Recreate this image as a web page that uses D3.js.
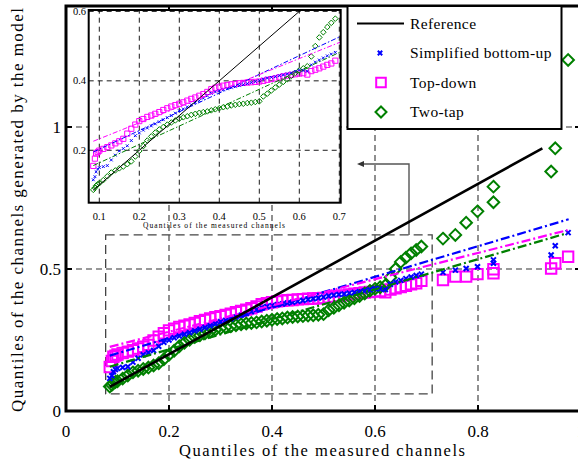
<!DOCTYPE html>
<html>
<head>
<meta charset="utf-8">
<script src="https://cdn.jsdelivr.net/npm/d3@7"></script>
<style>
  body { margin: 0; background: #fff; }
  svg { display: block; }
  text { font-family: "Liberation Serif", "DejaVu Serif", serif; }
</style>
</head>
<body>
<svg width="578" height="460"></svg>
<script>
// quantiles of the measured channels (shared x for all three models)
const xMeasured = [0.085, 0.089, 0.092, 0.096,
  0.10, 0.11, 0.12, 0.13, 0.14, 0.15, 0.16, 0.17, 0.18, 0.19,
  0.20, 0.21, 0.22, 0.23, 0.24, 0.25, 0.26, 0.27, 0.28, 0.29,
  0.30, 0.31, 0.32, 0.33, 0.34, 0.35, 0.36, 0.37, 0.38, 0.39,
  0.40, 0.41, 0.42, 0.43, 0.44, 0.45, 0.46, 0.47, 0.48, 0.49,
  0.50, 0.51, 0.52, 0.53, 0.54, 0.55, 0.56, 0.57, 0.58, 0.59,
  0.60, 0.61, 0.62, 0.63, 0.64, 0.65, 0.66, 0.67, 0.68, 0.69,
  0.732, 0.756, 0.777, 0.799, 0.83, 0.83, 0.942, 0.95, 0.975];

const yBottomUp = [0.115, 0.124, 0.138, 0.146,
  0.150, 0.153, 0.156, 0.172, 0.186, 0.198, 0.205, 0.213, 0.228, 0.242,
  0.250, 0.258, 0.264, 0.270, 0.276, 0.282, 0.288, 0.294, 0.300, 0.307,
  0.314, 0.319, 0.325, 0.331, 0.337, 0.343, 0.350, 0.357, 0.364, 0.368,
  0.371, 0.374, 0.377, 0.380, 0.383, 0.386, 0.389, 0.392, 0.395, 0.398,
  0.401, 0.405, 0.408, 0.410, 0.412, 0.415, 0.417, 0.420, 0.423, 0.427,
  0.431, 0.430, 0.428, 0.446, 0.454, 0.460, 0.466, 0.472, 0.477, 0.482,
  0.488, 0.496, 0.502, 0.508, 0.520, 0.532, 0.549, 0.582, 0.628];

const yTopDown = [0.155, 0.176, 0.191, 0.195,
  0.199, 0.204, 0.209, 0.214, 0.220, 0.226, 0.233, 0.248, 0.262, 0.274,
  0.284, 0.290, 0.296, 0.300, 0.305, 0.310, 0.316, 0.321, 0.326, 0.330,
  0.334, 0.338, 0.343, 0.348, 0.352, 0.357, 0.362, 0.368, 0.376, 0.380,
  0.383, 0.386, 0.388, 0.390, 0.391, 0.393, 0.394, 0.395, 0.396, 0.397,
  0.398, 0.400, 0.403, 0.405, 0.407, 0.410, 0.413, 0.415, 0.417, 0.419,
  0.421, 0.422, 0.418, 0.428, 0.432, 0.436, 0.441, 0.446, 0.450, 0.458,
  0.461, 0.473, 0.473, 0.482, 0.485, 0.499, 0.502, 0.520, 0.543];

const yTwoTap = [0.086, 0.092, 0.098, 0.102,
  0.105, 0.114, 0.125, 0.136, 0.142, 0.148, 0.153, 0.160, 0.168, 0.182,
  0.198, 0.212, 0.228, 0.240, 0.251, 0.260, 0.267, 0.274, 0.280, 0.286,
  0.291, 0.295, 0.298, 0.302, 0.305, 0.308, 0.310, 0.312, 0.315, 0.318,
  0.321, 0.324, 0.326, 0.329, 0.331, 0.333, 0.334, 0.336, 0.337, 0.339,
  0.341, 0.355, 0.363, 0.372, 0.381, 0.389, 0.397, 0.405, 0.414, 0.423,
  0.430, 0.436, 0.442, 0.470, 0.500, 0.525, 0.540, 0.555, 0.567, 0.579,
  0.607, 0.620, 0.663, 0.703, 0.735, 0.790, 0.843, 0.925, 1.236];

// dash-dot fitted lines [x, y] end points
const fitBottomUp = [[0.085, 0.195], [0.976, 0.675]];
const fitTopDown = [[0.085, 0.226], [0.974, 0.637]];
const fitTwoTap = [[0.085, 0.156], [0.973, 0.626]];
const refLine = [[0.085, 0.085], [0.925, 0.925]];

const xTicks = [0, 0.2, 0.4, 0.6, 0.8, 1];
const yTicks = [0, 0.5, 1];
const insetXTicks = [0.1, 0.2, 0.3, 0.4, 0.5, 0.6, 0.7];
const insetYTicks = [0.2, 0.4, 0.6];
const zoomBox = [0.077, 0.711, 0.06, 0.62]; // x0, x1, y0, y1
const legendLabels = ["Reference", "Simplified bottom-up", "Top-down", "Two-tap"];

const colors = { bu: "#0000ff", td: "#ff00ff", tt: "#008000" };

const svg = d3.select("svg");

// main axes
const x = d3.scaleLinear().domain([0, 1]).range([66, 581]);
const y = d3.scaleLinear().domain([0, 1.426]).range([411, 6]);

// marker paths
const squarePath = s => `M${-s},${-s}H${s}V${s}H${-s}Z`;
const diamondPath = s => `M0,${-s}L${s},0L0,${s}L${-s},0Z`;
const crossPath = s => `M${-s},${-s}L${s},${s}M${-s},${s}L${s},${-s}`;

function drawPlot(g, sx, sy, opt) {
  const clipId = opt.clip;
  g.append("clipPath").attr("id", clipId)
    .append("rect")
    .attr("x", sx.range()[0]).attr("y", sy.range()[1])
    .attr("width", sx.range()[1] - sx.range()[0])
    .attr("height", sy.range()[0] - sy.range()[1]);

  const data = g.append("g").attr("clip-path", `url(#${clipId})`);

  const series = [
    { ys: yTopDown, color: colors.td, path: squarePath(opt.sq) },
    { ys: yTwoTap, color: colors.tt, path: diamondPath(opt.dm) },
    { ys: yBottomUp, color: colors.bu, path: crossPath(opt.cx) }
  ];
  series.forEach(s => {
    data.append("g").selectAll("path")
      .data(xMeasured.map((v, i) => [v, s.ys[i]]))
      .enter().append("path")
      .attr("transform", d => `translate(${sx(d[0])},${sy(d[1])})`)
      .attr("d", s.path)
      .attr("fill", "none")
      .attr("stroke", s.color)
      .attr("stroke-width", opt.msw);
  });

  const line = d3.line().x(d => sx(d[0])).y(d => sy(d[1]));
  [[fitBottomUp, colors.bu], [fitTopDown, colors.td], [fitTwoTap, colors.tt]].forEach(([pts, c]) => {
    data.append("path").attr("d", line(pts))
      .attr("fill", "none").attr("stroke", c)
      .attr("stroke-width", opt.fitW)
      .attr("stroke-dasharray", opt.dashDot);
  });
  data.append("path").attr("d", line(refLine))
    .attr("fill", "none").attr("stroke", "#000")
    .attr("stroke-width", opt.refW);
}

// ---------- main plot ----------
const main = svg.append("g");

// grid
main.append("g").selectAll("line")
  .data(xTicks.filter(d => d > 0 && d < 1))
  .enter().append("line")
  .attr("x1", d => x(d)).attr("x2", d => x(d))
  .attr("y1", y.range()[0]).attr("y2", y.range()[1])
  .attr("stroke", "#333").attr("stroke-width", 1.1).attr("stroke-dasharray", "6,4");
main.append("g").selectAll("line")
  .data(yTicks.filter(d => d > 0))
  .enter().append("line")
  .attr("y1", d => y(d)).attr("y2", d => y(d))
  .attr("x1", x.range()[0]).attr("x2", x.range()[1])
  .attr("stroke", "#333").attr("stroke-width", 1.1).attr("stroke-dasharray", "6,4");

// zoom rectangle
main.append("rect")
  .attr("x", x(zoomBox[0])).attr("y", y(zoomBox[3]))
  .attr("width", x(zoomBox[1]) - x(zoomBox[0]))
  .attr("height", y(zoomBox[2]) - y(zoomBox[3]))
  .attr("fill", "none").attr("stroke", "#444").attr("stroke-width", 1.3)
  .attr("stroke-dasharray", "9,5");

// arrow from the zoom box to the inset
main.append("path")
  .attr("d", `M409,${y(zoomBox[3])}V164H362`)
  .attr("fill", "none").attr("stroke", "#555").attr("stroke-width", 1.4);
main.append("path")
  .attr("d", "M357,164L364,161L364,167Z")
  .attr("fill", "#333");

drawPlot(main, x, y, { clip: "clipMain", sq: 5.2, dm: 5.8, cx: 2.5, msw: 2, fitW: 2.2, refW: 2.6, dashDot: "9,3,2,3" });

// ticks (inside)
const mt = main.append("g").attr("stroke", "#000").attr("stroke-width", 2);
xTicks.forEach(d => {
  mt.append("line").attr("x1", x(d)).attr("x2", x(d)).attr("y1", 411).attr("y2", 405);
  mt.append("line").attr("x1", x(d)).attr("x2", x(d)).attr("y1", 6).attr("y2", 12);
});
yTicks.forEach(d => {
  mt.append("line").attr("x1", 66).attr("x2", 72).attr("y1", y(d)).attr("y2", y(d));
  mt.append("line").attr("x1", 581).attr("x2", 575).attr("y1", y(d)).attr("y2", y(d));
});

// frame
main.append("rect")
  .attr("x", 66).attr("y", 6).attr("width", 515).attr("height", 405)
  .attr("fill", "none").attr("stroke", "#000").attr("stroke-width", 3);

// tick labels
main.append("g").selectAll("text")
  .data(xTicks).enter().append("text")
  .attr("x", d => x(d)).attr("y", 437)
  .attr("text-anchor", "middle").attr("font-size", 17)
  .text(d => d);
main.append("g").selectAll("text")
  .data(yTicks).enter().append("text")
  .attr("x", 61).attr("y", d => y(d) + 6)
  .attr("text-anchor", "end").attr("font-size", 17)
  .text(d => d);

main.append("text")
  .attr("x", 179).attr("y", 456)
  .attr("font-size", 16.5)
  .attr("textLength", 286).attr("lengthAdjust", "spacing")
  .text("Quantiles of the measured channels");
main.append("text")
  .attr("transform", "translate(23,412) rotate(-90)")
  .attr("font-size", 17)
  .attr("textLength", 404).attr("lengthAdjust", "spacing")
  .text("Quantiles of the channels generated by the model");

// ---------- inset ----------
const ix = d3.scaleLinear().domain([0.0735, 0.7035]).range([88.7, 340.7]);
const iy = d3.scaleLinear().domain([0.049, 0.604]).range([202.7, 10]);
const inset = svg.append("g");

inset.append("rect")
  .attr("x", 88.7).attr("y", 10).attr("width", 252).attr("height", 192.7)
  .attr("fill", "#fff");

inset.append("g").selectAll("line")
  .data(insetXTicks).enter().append("line")
  .attr("x1", d => ix(d)).attr("x2", d => ix(d))
  .attr("y1", iy.range()[0]).attr("y2", iy.range()[1])
  .attr("stroke", "#000").attr("stroke-width", 0.9).attr("stroke-dasharray", "5,4");
inset.append("g").selectAll("line")
  .data(insetYTicks).enter().append("line")
  .attr("y1", d => iy(d)).attr("y2", d => iy(d))
  .attr("x1", ix.range()[0]).attr("x2", ix.range()[1])
  .attr("stroke", "#000").attr("stroke-width", 0.9).attr("stroke-dasharray", "5,4");

drawPlot(inset, ix, iy, { clip: "clipInset", sq: 2.6, dm: 2.8, cx: 1.4, msw: 1, fitW: 1, refW: 1, dashDot: "5,2,1.5,2" });

inset.append("rect")
  .attr("x", 88.7).attr("y", 10).attr("width", 252).attr("height", 192.7)
  .attr("fill", "none").attr("stroke", "#000").attr("stroke-width", 2);

inset.append("g").selectAll("text")
  .data(insetXTicks).enter().append("text")
  .attr("x", d => ix(d)).attr("y", 220)
  .attr("text-anchor", "middle").attr("font-size", 10.5)
  .text(d => d);
inset.append("g").selectAll("text")
  .data(insetYTicks).enter().append("text")
  .attr("x", 86).attr("y", d => iy(d) + 3.5)
  .attr("text-anchor", "end").attr("font-size", 10.5)
  .text(d => d);
inset.append("text")
  .attr("x", 143).attr("y", 228)
  .attr("font-size", 7.5)
  .attr("textLength", 142).attr("lengthAdjust", "spacing")
  .text("Quantiles of the measured channels");

// ---------- legend ----------
const legend = svg.append("g");
legend.append("rect")
  .attr("x", 347.5).attr("y", 6).attr("width", 214).attr("height", 123)
  .attr("fill", "#fff").attr("stroke", "#000").attr("stroke-width", 2);

const ly = d3.scalePoint().domain(legendLabels).range([23.5, 112]);
legend.append("line")
  .attr("x1", 357).attr("x2", 404)
  .attr("y1", ly("Reference")).attr("y2", ly("Reference"))
  .attr("stroke", "#000").attr("stroke-width", 2.2);
legend.append("path")
  .attr("transform", `translate(380,${ly("Simplified bottom-up")})`)
  .attr("d", crossPath(2.2)).attr("stroke", colors.bu).attr("stroke-width", 2).attr("fill", "none");
legend.append("path")
  .attr("transform", `translate(381,${ly("Top-down")})`)
  .attr("d", squarePath(4.8)).attr("stroke", colors.td).attr("stroke-width", 2).attr("fill", "none");
legend.append("path")
  .attr("transform", `translate(381,${ly("Two-tap")})`)
  .attr("d", diamondPath(5.5)).attr("stroke", colors.tt).attr("stroke-width", 2).attr("fill", "none");

legend.append("g").selectAll("text")
  .data(legendLabels).enter().append("text")
  .attr("x", 410).attr("y", d => ly(d) + 5)
  .attr("font-size", 15.5).attr("letter-spacing", 0.4)
  .text(d => d);
</script>
</body>
</html>
